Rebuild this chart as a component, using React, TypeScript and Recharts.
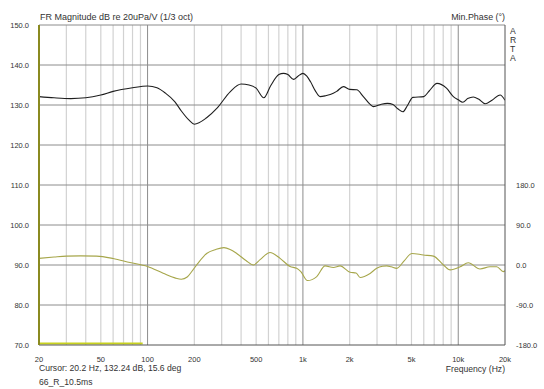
import { ComposedChart, Line, XAxis, YAxis, ReferenceLine } from "recharts"

// magnitude (dB re 20uPa/V), 1/3 oct smoothed
const magFreq = [20, 25, 32, 40, 50, 60, 80, 100, 115, 130, 150, 165, 185, 200, 240, 280, 340, 400, 450, 500, 560, 620, 700, 750, 800, 870, 930, 1000, 1060, 1120, 1200, 1290, 1400, 1500, 1650, 1820, 2000, 2220, 2450, 2700, 2850, 3200, 3500, 3800, 4100, 4400, 4700, 5100, 6000, 6500, 7300, 8400, 9300, 10000, 10700, 11500, 12500, 13500, 14900, 16500, 18600, 20000]
const magDb = [132.1, 131.8, 131.6, 131.8, 132.5, 133.4, 134.3, 134.75, 134.3, 133.0, 130.8, 128.5, 126.2, 125.2, 126.8, 129.2, 133.3, 135.25, 135.0, 134.2, 131.8, 134.8, 137.6, 137.9, 137.6, 136.4, 137.2, 137.9, 137.2, 135.8, 133.6, 132.1, 132.3, 132.6, 133.4, 134.6, 133.9, 133.8, 132.1, 130.2, 129.6, 130.2, 130.4, 130.1, 129.0, 128.3, 129.8, 131.9, 132.1, 133.5, 135.4, 134.2, 132.1, 131.3, 130.7, 131.6, 132.0, 131.5, 130.3, 131.2, 132.5, 131.2]

// minimum phase (deg)
const phaseFreq = [20, 25, 30, 37, 47, 60, 77, 100, 126, 150, 165, 180, 195, 210, 240, 275, 310, 340, 375, 430, 480, 530, 614, 713, 827, 912, 970, 1069, 1228, 1390, 1572, 1734, 2014, 2200, 2335, 2706, 2986, 3250, 3469, 3700, 4020, 4500, 5025, 5966, 6925, 8033, 8870, 10300, 11600, 13800, 16000, 17700, 19500, 20000]
const phaseDeg = [15, 18, 20, 20.5, 20, 14.6, 5.5, -3.5, -18.5, -29, -32, -27, -12, 3, 26, 35, 39, 35, 26, 10, 0, 12, 28, 15, -3.5, -7.5, -15, -35, -26, -2, -5.5, -2, -16.5, -18, -28, -19, -7.5, -3, -2, -4, -7.5, 10, 26, 22.5, 20, 0, -11, -4, 5, -9, -4, -4, -15, -13]

// cursor marker along the bottom
const markFreq = [20, 93]
const markLevel = 70.4

const xTicks = [20, 50, 100, 200, 500, 1000, 2000, 5000, 10000, 20000]
const minorFreqs = [30, 40, 60, 70, 80, 90, 300, 400, 600, 700, 800, 900, 3000, 4000, 6000, 7000, 8000, 9000, 50, 200, 500, 2000, 5000]
const majorFreqs = [100, 1000, 10000]
const dbTicks = [70, 80, 90, 100, 110, 120, 130, 140, 150]
const phaseTicks = [-180, -90, 0, 90, 180]

const font = "'Liberation Sans', Arial, sans-serif"
const txt = "#333"

const fmtFreq = (f: number) => (f >= 1000 ? `${f / 1000}k` : `${f}`)

const App = () => {
    const magData = magFreq.map((f, i) => ({ f, db: magDb[i] }))
    const phaseData = phaseFreq.map((f, i) => ({ f, ph: phaseDeg[i] }))
    const markData = markFreq.map(f => ({ f, m: markLevel }))

    const label = (style: React.CSSProperties, text: string) => (
        <div style={{ position: "absolute", fontFamily: font, fontSize: 8.6, color: txt, lineHeight: 1, whiteSpace: "nowrap", ...style }}>
            {text}
        </div>
    )

    return (
        <div style={{ position: "absolute", left: 0, top: 0, width: 544, height: 389, background: "#fff" }}>
            <ComposedChart width={544} height={389} margin={{ top: 25, right: 0, bottom: 0, left: 0 }}>
                <XAxis
                    dataKey="f"
                    type="number"
                    scale="log"
                    domain={[20, 20000]}
                    ticks={xTicks}
                    tickFormatter={fmtFreq}
                    allowDataOverflow
                    height={44}
                    tickLine={false}
                    tickMargin={6}
                    axisLine={{ stroke: "#555" }}
                    tick={{ fontSize: 7.5, fill: txt, fontFamily: font }}
                />
                <YAxis
                    yAxisId="left"
                    domain={[70, 150]}
                    ticks={dbTicks}
                    tickFormatter={(v: number) => v.toFixed(1)}
                    width={39}
                    tickLine={false}
                    tickMargin={4}
                    axisLine={{ stroke: "#8a8a20", strokeWidth: 2 }}
                    tick={{ fontSize: 7.5, fill: txt, fontFamily: font }}
                    allowDataOverflow
                />
                <YAxis
                    yAxisId="right"
                    orientation="right"
                    domain={[-180, 540]}
                    ticks={phaseTicks}
                    tickFormatter={(v: number) => v.toFixed(1)}
                    width={39}
                    tickLine={false}
                    tickMargin={5}
                    axisLine={{ stroke: "#555" }}
                    tick={{ fontSize: 7.5, fill: txt, fontFamily: font, textAnchor: "start" }}
                    allowDataOverflow
                />
                {minorFreqs.map(f => (
                    <ReferenceLine key={`mi${f}`} yAxisId="left" x={f} stroke="#d2d2d2" strokeWidth={1.2} />
                ))}
                {majorFreqs.map(f => (
                    <ReferenceLine key={`ma${f}`} yAxisId="left" x={f} stroke="#8c8c8c" />
                ))}
                {dbTicks.slice(1).map(v => (
                    <ReferenceLine key={`h${v}`} yAxisId="left" y={v} stroke="#8c8c8c" />
                ))}
                <Line
                    yAxisId="left"
                    data={markData}
                    dataKey="m"
                    stroke="#c8d21e"
                    strokeWidth={2}
                    dot={false}
                    isAnimationActive={false}
                />
                <Line
                    yAxisId="right"
                    data={phaseData}
                    dataKey="ph"
                    type="monotone"
                    stroke="#a6a64a"
                    strokeWidth={1.1}
                    dot={false}
                    isAnimationActive={false}
                />
                <Line
                    yAxisId="left"
                    data={magData}
                    dataKey="db"
                    type="monotone"
                    stroke="#1e1e1e"
                    strokeWidth={1.1}
                    dot={false}
                    isAnimationActive={false}
                />
            </ComposedChart>
            {label({ left: 40, top: 13, fontSize: 9 }, "FR Magnitude dB re 20uPa/V (1/3 oct)")}
            {label({ right: 39, top: 13, fontSize: 8.9 }, "Min.Phase (°)")}
            <div style={{ position: "absolute", left: 510, top: 27, fontFamily: font, fontSize: 8.6, color: txt, lineHeight: "9px", width: 10 }}>
                A<br />R<br />T<br />A
            </div>
            {label({ left: 39, top: 364 }, "Cursor: 20.2 Hz, 132.24 dB, 15.6 deg")}
            {label({ left: 39, top: 378 }, "66_R_10.5ms")}
            {label({ right: 39, top: 365 }, "Frequency (Hz)")}
        </div>
    )
}

export default App
